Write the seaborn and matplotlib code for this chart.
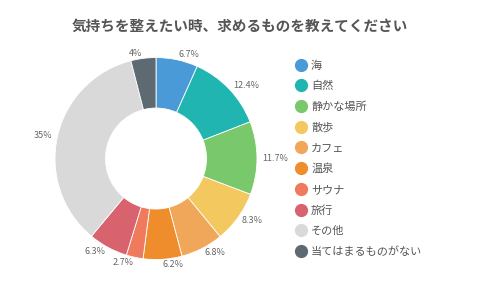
import matplotlib.pyplot as plt
import seaborn as sns
from matplotlib.lines import Line2D

# --- data ---
categories = ["海", "自然", "静かな場所", "散歩", "カフェ", "温泉", "サウナ", "旅行", "その他", "当てはまるものがない"]
values = [6.7, 12.4, 11.7, 8.3, 6.8, 6.2, 2.7, 6.3, 35, 4]
pct_labels = ["6.7%", "12.4%", "11.7%", "8.3%", "6.8%", "6.2%", "2.7%", "6.3%", "35%", "4%"]
colors = ["#4a9ad8", "#20b5b0", "#79c86b", "#f3c85e", "#f1a75a", "#ef8c2b",
          "#ef7a5d", "#d9626f", "#d9d9d9", "#5e6a72"]

sns.set_theme(style="white")
plt.rcParams['font.family'] = ['Noto Sans CJK JP', 'DejaVu Sans']

fig = plt.figure(figsize=(4.8, 2.88), dpi=100)
ax = fig.add_axes([0.062, 0.011, 0.526, 0.877])

palette = sns.color_palette(colors)
wedges, texts = ax.pie(
    values,
    labels=pct_labels,
    colors=palette,
    startangle=90,
    counterclock=False,
    labeldistance=1.05,
    wedgeprops=dict(width=0.5, edgecolor="white", linewidth=0.6),
    textprops=dict(fontsize=6.5, color="#666666"),
)
ax.set_xlim(-1.25, 1.25)
ax.set_ylim(-1.25, 1.25)
ax.set_aspect("equal")

fig.text(0.5, 0.912, "気持ちを整えたい時、求めるものを教えてください",
         ha="center", va="center", fontsize=10.5, fontweight="bold", color="#555555")

handles = [Line2D([0], [0], marker="o", linestyle="", markersize=8.5,
                  markerfacecolor=c, markeredgecolor=c) for c in colors]
fig.legend(handles, categories, loc="upper left", bbox_to_anchor=(0.603, 0.81),
           frameon=False, fontsize=8, labelcolor="#555555",
           handlelength=1.0, handletextpad=0.45, labelspacing=0.93, borderpad=0)

fig.savefig("out.png", dpi=100)
